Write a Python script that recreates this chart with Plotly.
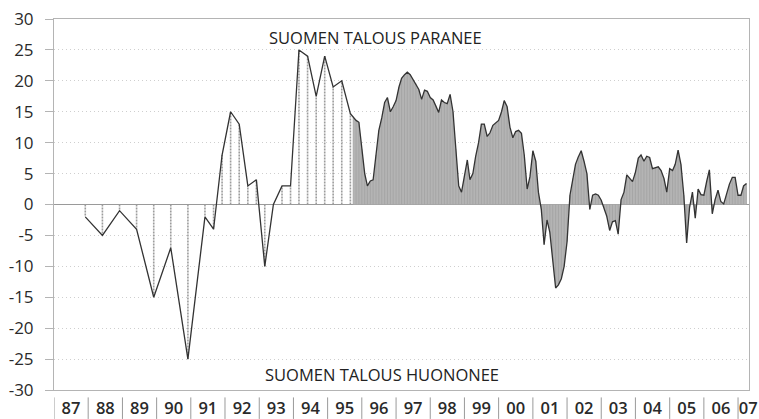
import plotly.graph_objects as go
import pandas as pd

# ---- data ----
early_dates = ["1987-12-01", "1988-06-01", "1988-12-01", "1989-06-01", "1989-12-01",
               "1990-06-01", "1990-12-01", "1991-06-01", "1991-09-01", "1991-12-01",
               "1992-03-01", "1992-06-01", "1992-09-01", "1992-12-01", "1993-03-01",
               "1993-06-01", "1993-09-01", "1993-12-01", "1994-03-01", "1994-06-01",
               "1994-09-01", "1994-12-01", "1995-03-01", "1995-06-01", "1995-09-01"]
early_values = [-2, -5, -1, -4, -15, -7, -25, -2, -4, 8,
                15, 13, 3, 4, -10, 0, 3, 3, 25, 24,
                17.5, 24, 19, 20, 14.7]

monthly_start = "1995-10-01"
monthly_values = [
    14.2, 13.6, 13.3,                                                  # 1995 Oct-Dec
    9.0, 5.0, 3.0, 3.8, 4.0, 8.0, 12.0, 14.0, 16.5, 17.3, 15.0, 15.8,  # 1996
    16.8, 19.0, 20.4, 21.0, 21.4, 21.0, 20.2, 19.6, 18.6, 17.0, 18.5, 18.3,  # 1997
    17.3, 16.9, 16.0, 14.9, 16.9, 16.5, 16.3, 17.8, 15.0, 9.0, 3.0, 2.0,  # 1998
    4.5, 7.2, 4.0, 5.0, 7.8, 10.0, 13.0, 13.0, 11.0, 11.6, 12.8, 13.2,  # 1999
    13.6, 15.0, 16.8, 15.8, 12.5, 10.8, 11.8, 12.0, 11.5, 8.0, 2.5, 4.5,  # 2000
    8.7, 7.0, 2.0, -0.8, -6.5, -2.5, -4.5, -9.0, -13.5, -13.0, -12.0, -10.0,  # 2001
    -6.0, 1.5, 4.2, 6.5, 7.7, 8.7, 7.0, 5.0, -0.8, 1.5, 1.7, 1.5,  # 2002
    0.7, -0.5, -1.9, -4.2, -2.8, -2.6, -4.8, 0.8, 2.0, 4.8, 4.2, 3.7,  # 2003
    5.2, 7.5, 8.0, 7.0, 7.8, 7.6, 5.8, 5.9, 6.1, 5.5, 4.2, 2.0,  # 2004
    5.8, 5.5, 6.5, 8.8, 6.5, 1.5, -6.2, -0.5, 2.0, -2.2, 2.5, 1.6,  # 2005
    1.5, 3.8, 5.6, -1.5, 0.8, 2.3, 0.5, 0.1, 1.8, 3.3, 4.4, 4.4,  # 2006
    1.5, 1.5, 3.0, 3.4,                                            # 2007 Jan-Apr
]

years = list(range(1987, 2008))
y_ticks = [30, 25, 20, 15, 10, 5, 0, -5, -10, -15, -20, -25, -30]
label_up = "SUOMEN TALOUS PARANEE"
label_down = "SUOMEN TALOUS HUONONEE"
x_start = "1987-01-01"
x_end = "2007-04-28"
last_label_pos = "2007-04-20"

# ---- derived ----
monthly_dates = [d.strftime("%Y-%m-%d") for d in
                 pd.date_range(monthly_start, periods=len(monthly_values), freq="MS")]
all_dates = early_dates + monthly_dates
all_values = early_values + monthly_values


def drops(dates, vals):
    xs, ys = [], []
    for d, v in zip(dates, vals):
        xs += [d, d, None]
        ys += [0, v, None]
    return xs, ys


fig = go.Figure()

# dense shaded area for monthly part
fig.add_trace(go.Scatter(x=monthly_dates, y=monthly_values, mode="lines",
                         line=dict(width=0), fill="tozeroy",
                         fillcolor="#b4b4b4", hoverinfo="skip", showlegend=False))

# drop lines (hatching)
ex, ey = drops(early_dates, early_values)
fig.add_trace(go.Scatter(x=ex, y=ey, mode="lines",
                         line=dict(color="#9c9c9c", width=1.6, dash="2px,1px"),
                         hoverinfo="skip", showlegend=False))
mx, my = drops(monthly_dates, monthly_values)
fig.add_trace(go.Scatter(x=mx, y=my, mode="lines",
                         line=dict(color="#a2a2a2", width=0.8),
                         hoverinfo="skip", showlegend=False))

# main line
fig.add_trace(go.Scatter(x=all_dates, y=all_values, mode="lines",
                         line=dict(color="#333333", width=1.3),
                         showlegend=False))

# x tick labels centred in each year column; last one at right edge
tickvals = [f"{y}-07-02" for y in years[:-1]] + [last_label_pos]
ticktext = [f"{y % 100:02d}" for y in years]

shapes = []
for y in years:
    shapes.append(dict(type="line", xref="x", yref="paper",
                       x0=f"{y}-01-01", x1=f"{y}-01-01", y0=-0.02, y1=-0.078,
                       line=dict(color="#9a9a9a", width=1)))

fig.update_layout(
    width=759, height=419,
    margin=dict(l=54, r=10, t=19, b=29, autoexpand=False),
    paper_bgcolor="white", plot_bgcolor="white",
    font=dict(family="Open Sans", color="#2a2a2a"),
    shapes=shapes,
    annotations=[
        dict(text=label_up, xref="paper", yref="paper", x=0.4626, y=0.951,
             showarrow=False, font=dict(size=16.5, color="#222222"),
             xanchor="center", yanchor="middle"),
        dict(text=label_down, xref="paper", yref="paper", x=0.472, y=0.043,
             showarrow=False, font=dict(size=16.5, color="#222222"),
             xanchor="center", yanchor="middle"),
    ],
)

fig.update_xaxes(type="date", range=[x_start, x_end], automargin=False,
                 tickvals=tickvals, ticktext=ticktext, ticks="",
                 tickfont=dict(size=16.5, color="#2a2a2a", weight=600),
                 ticklabelstandoff=3,
                 showgrid=False, zeroline=False,
                 showline=True, mirror=True, linecolor="#b4b4b4", linewidth=1)

fig.update_yaxes(range=[-30, 30], tickvals=y_ticks, automargin=False,
                 ticktext=[str(v) for v in y_ticks],
                 ticks="outside", ticklen=8, tickcolor="#b4b4b4",
                 tickfont=dict(size=17, color="#2a2a2a"),
                 ticklabelstandoff=8,
                 showgrid=True, gridcolor="#cfcfcf", griddash="1px,3px", gridwidth=1,
                 zeroline=True, zerolinecolor="#9a9a9a", zerolinewidth=1,
                 showline=True, mirror=True, linecolor="#b4b4b4", linewidth=1)

fig.write_html("out.html", config={"displayModeBar": False},
               post_script="document.body.style.margin='0';"
                           "document.body.style.overflow='hidden';")
